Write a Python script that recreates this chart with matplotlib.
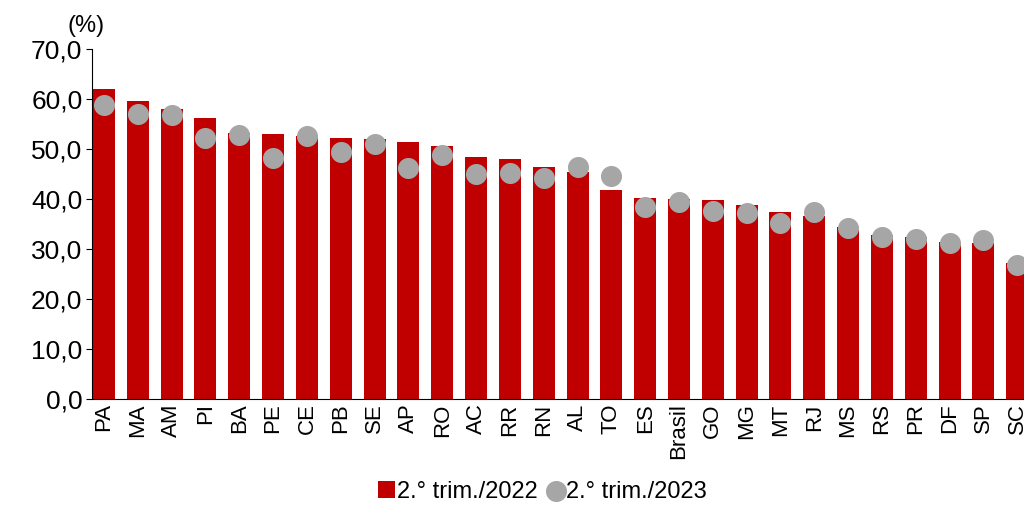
import matplotlib
matplotlib.use("Agg")
import matplotlib.pyplot as plt
import numpy as np

plt.rcParams["font.family"] = ["Liberation Sans", "DejaVu Sans"]

states = ["PA", "MA", "AM", "PI", "BA", "PE", "CE", "PB", "SE", "AP", "RO", "AC", "RR", "RN",
          "AL", "TO", "ES", "Brasil", "GO", "MG", "MT", "RJ", "MS", "RS", "PR", "DF", "SP", "SC"]
t2022 = [62.0, 59.6, 58.0, 56.2, 53.2, 53.0, 52.6, 52.2, 52.0, 51.4, 50.6, 48.4, 48.0, 46.4,
         45.4, 41.8, 40.2, 40.0, 39.8, 38.8, 37.4, 36.6, 34.4, 32.8, 32.4, 31.4, 31.2, 27.2]
t2023 = [58.8, 57.0, 56.8, 52.2, 52.8, 48.2, 52.6, 49.4, 51.0, 46.2, 48.8, 45.0, 45.2, 44.2,
         46.4, 44.6, 38.4, 39.4, 37.6, 37.2, 35.2, 37.4, 34.2, 32.4, 32.0, 31.2, 31.8, 26.8]

fig = plt.figure(figsize=(10.24, 5.11), dpi=100)
ax = fig.add_axes([0.09, 0.219, 0.91, 0.685])
x = np.arange(len(states))
bars = ax.bar(x, t2022, width=0.65, color="#c00000", zorder=2)
dots = ax.scatter(x, t2023, s=200, color="#a6a6a6", zorder=3)

ax.set_xlim(-0.35, 27.2)
ax.set_ylim(0, 70)
ax.set_yticks(np.arange(0, 71, 10))
ax.set_yticklabels([f"{v:.1f}".replace(".", ",") for v in range(0, 71, 10)], fontsize=19)
ax.set_xticks(x)
ax.set_xticklabels(states, rotation=90, fontsize=16)
ax.tick_params(axis="x", length=0, pad=3)
ax.tick_params(axis="y", direction="out", length=4, pad=3)
for s in ["top", "right"]:
    ax.spines[s].set_visible(False)
ax.text(-0.007, 1.05, "(%)", transform=ax.transAxes, fontsize=17, ha="center")

fig.legend([bars, dots], ["2.° trim./2022", "2.° trim./2023"], loc="lower center",
           bbox_to_anchor=(0.53, -0.025), ncol=2, frameon=False,
           fontsize=17, handlelength=0.7, handletextpad=0.1, columnspacing=0.4)
fig.savefig("out.png", dpi=100)
